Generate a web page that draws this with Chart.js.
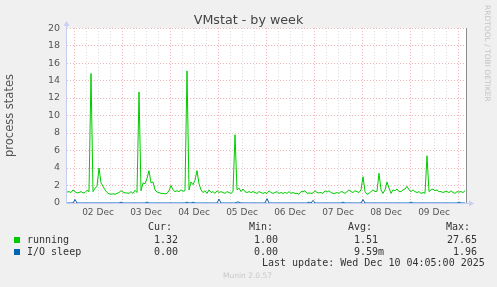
<!DOCTYPE html>
<html>
<head>
<meta charset="utf-8">
<script src="https://cdn.jsdelivr.net/npm/chart.js@4.4.1/dist/chart.umd.min.js"></script>
<style>
html,body{margin:0;padding:0;background:#f0f0f0;}
#wrap{position:relative;width:497px;height:287px;overflow:hidden;background:#f0f0f0;}
#c{position:absolute;left:0;top:0;}
.m{position:absolute;white-space:pre;font-family:"DejaVu Sans Mono",monospace;font-size:10px;line-height:12px;color:#333;}
.sq{position:absolute;width:6px;height:6px;}
#rrd{position:absolute;left:483px;top:5px;writing-mode:vertical-rl;font-family:"DejaVu Sans",sans-serif;font-size:7.5px;line-height:8px;color:#c4c4c4;white-space:pre;}
#munin{position:absolute;left:223px;top:271px;font-family:"DejaVu Sans",sans-serif;font-size:7.5px;line-height:9px;color:#c8c8c8;white-space:pre;}
</style>
</head>
<body>
<div id="wrap">
<canvas id="c" width="497" height="287"></canvas>
<div id="rrd">RRDTOOL / TOBI OETIKER</div>
<div id="munin">Munin 2.0.57</div>
</div>
<script>
// ---- data (hours relative to 02 Dec 00:00, one sample per hour) ----
const dayLabels = ['02 Dec','03 Dec','04 Dec','05 Dec','06 Dec','07 Dec','08 Dec','09 Dec'];
const startHour = -3.5;
const running = [
 1.25,1.3,1.2,1.5,1.3,1.15,1.2,1.3,1.15,1.2, 1.45,1.3,14.8,1.3,1.7,1.9,4.0,2.3,1.9,1.5,
 1.2,1.05,1.0,1.05,1.0,1.1,1.2,1.4,1.25,1.15, 1.15,1.1,1.3,1.1,1.45,1.2,12.7,1.4,2.3,2.2,
 2.8,3.7,2.3,2.4,1.5,1.25,1.2,1.1,1.1,1.05, 1.1,1.4,2.0,1.5,1.3,1.4,1.3,1.5,1.35,1.4,
 15.1,1.5,2.4,2.1,2.6,3.7,2.2,1.5,1.2,1.4, 1.1,1.5,1.2,1.3,1.1,1.4,1.2,1.3,1.2,1.1,
 1.3,1.2,1.1,1.3,7.8,1.5,1.7,1.3,1.6,1.3, 1.2,1.3,1.2,1.3,1.2,1.1,1.3,1.2,1.1,1.2,
 1.1,1.4,1.2,1.1,1.2,1.3,1.1,1.2,1.1,1.2, 1.1,1.3,1.1,1.2,1.1,1.1,1.0,1.3,1.3,1.4,
 1.1,1.15,1.1,1.15,1.4,1.2,1.15,1.2,1.1,1.4, 1.25,1.4,1.2,1.1,1.1,1.2,1.1,1.3,1.25,1.1,
 1.3,1.5,1.3,1.2,1.4,1.3,1.2,1.5,3.0,1.3, 1.0,1.1,1.3,1.5,1.3,1.35,3.4,1.5,1.1,1.5,
 2.4,1.7,1.1,1.5,1.4,1.6,1.3,1.3,1.5,1.6, 1.9,1.5,1.3,1.5,1.3,1.2,1.3,1.1,1.2,1.1,
 5.4,1.3,1.5,1.6,1.4,1.5,1.3,1.3,1.2,1.3, 1.3,1.2,1.4,1.2,1.1,1.3,1.25,1.3,1.2,1.4
];
const ioSleep = [
 0,0,0,0,0.4,0,0,0,0,0, 0,0,0,0,0,0,0,0,0,0,
 0,0,0,0,0,0,0,0.1,0,0, 0,0,0,0,0,0,0,0,0,0,
 0.1,0,0,0,0,0,0,0,0,0, 0,0,0,0,0,0,0,0,0,0,
 0.1,0,0,0.1,0,0,0,0,0,0, 0,0,0,0,0,0,0.45,0,0,0,
 0,0,0,0,0,0.1,0.1,0,0,0, 0,0,0,0,0,0,0,0,0,0,
 0.5,0,0,0,0,0,0,0,0,0, 0,0,0,0,0,0,0,0,0,0,
 0,0.1,0,0.3,0,0,0,0,0,0, 0,0,0,0,0,0,0,0,0.1,0,
 0,0,0,0,0,0,0,0,0.4,0, 0,0,0,0,0,0,0,0,0,0,
 0,0,0,0,0,0,0,0,0,0, 0,0,0.1,0,0,0,0,0,0,0,
 0,0,0,0,0,0,0,0,0,0, 0,0,0,0,0,0,0.1,0,0,0
];
const seriesNames = ['running','I/O sleep'];
const curVals = ['1.32 ','0.00 '];
const minVals = ['1.00 ','0.00 '];
const avgVals = ['1.51 ','9.59m'];
const maxVals = ['27.65 ','1.96 '];
const headers = ['Cur:','Min:','Avg:','Max:'];
const lastUpdate = 'Last update: Wed Dec 10 04:05:00 2025';

// ---- styles ----
const seriesColors = ['#00cc00','#0066b3'];
const majorGrid = 'rgba(225,110,110,0.5)';
const minorGrid = 'rgba(175,175,175,0.45)';
const axisColor = '#c8cef4';

const toPts = arr => arr.map((v,i)=>({x:startHour+i, y:v}));

const wrap = document.getElementById('wrap');
function addText(txt, left, top, right){
  const s = document.createElement('span');
  s.className='m'; s.textContent = txt;
  if (right !== undefined) s.style.right = (497-right)+'px'; else s.style.left = left+'px';
  s.style.top = top+'px';
  wrap.appendChild(s);
}
const headerLeft = [148,249,348,446];
headers.forEach((h,i)=>addText(h, headerLeft[i], 220.5));
const rowTop = [233.5,245.8];
const colRight = [184,284,384,483];
seriesNames.forEach((n,r)=>{
  const sq=document.createElement('div'); sq.className='sq';
  sq.style.left='14px'; sq.style.top=(rowTop[r]+3.5)+'px'; sq.style.background=seriesColors[r];
  wrap.appendChild(sq);
  addText(n, 27, rowTop[r]);
  [curVals,minVals,avgVals,maxVals].forEach((col,c)=>addText(col[r], undefined, rowTop[r], colRight[c]));
});
addText(lastUpdate, 262, 257);

const xTicks = [];
for (let h=0; h<=192; h+=6) xTicks.push(h);

const decor = {
  id:'decor',
  beforeDraw(chart){
    const {ctx, chartArea:{left,right,top,bottom}} = chart;
    ctx.save(); ctx.fillStyle='#ffffff'; ctx.fillRect(left,top,right-left,bottom-top); ctx.restore();
  },
  beforeDatasetsDraw(chart){
    const {ctx, chartArea:{left,right,top,bottom}} = chart;
    ctx.save();
    ctx.strokeStyle=axisColor; ctx.fillStyle=axisColor; ctx.lineWidth=1;
    ctx.beginPath(); ctx.moveTo(left-0.5,bottom+1); ctx.lineTo(left-0.5,top-3); ctx.stroke();
    ctx.beginPath(); ctx.moveTo(left-3.5,top-2); ctx.lineTo(left+2.5,top-2); ctx.lineTo(left-0.5,top-7); ctx.closePath(); ctx.fill();
    ctx.beginPath(); ctx.moveTo(left-1,bottom+0.5); ctx.lineTo(right+3,bottom+0.5); ctx.stroke();
    ctx.beginPath(); ctx.moveTo(right+3,bottom-2.5); ctx.lineTo(right+3,bottom+3.5); ctx.lineTo(right+8,bottom+0.5); ctx.closePath(); ctx.fill();
    ctx.restore();
  }
};

new Chart(document.getElementById('c'), {
  type:'line',
  data:{datasets:[
    {label:seriesNames[1], data:toPts(ioSleep), borderColor:seriesColors[1], borderWidth:1, pointRadius:0, tension:0, fill:false},
    {label:seriesNames[0], data:toPts(running), borderColor:seriesColors[0], borderWidth:1, pointRadius:0, tension:0, fill:false}
  ]},
  options:{
    responsive:false, animation:false, devicePixelRatio:1,
    layout:{padding:{left:0,right:0,top:0,bottom:65}},
    plugins:{
      legend:{display:false}, tooltip:{enabled:false},
      title:{display:true, text:'VMstat - by week', color:'#444',
        font:{family:'DejaVu Sans', size:12.7, weight:'normal', lineHeight:1.2},
        padding:{top:12.6,bottom:0.2}}
    },
    scales:{
      x:{type:'linear', min:startHour, max:196,
        afterBuildTicks(s){ s.ticks = xTicks.map(v=>({value:v})); },
        afterFit(s){ s.height = 19; },
        grid:{drawTicks:false, lineWidth:1, color:c=> (c.tick && c.tick.value%24===0) ? majorGrid : minorGrid},
        border:{display:false, dash:[1,2]},
        ticks:{autoSkip:false, maxRotation:0, padding:4, color:'#555',
          font:{family:'DejaVu Sans', size:9},
          callback:v=> (v%24===12) ? dayLabels[(v-12)/24] : ''}
      },
      y:{min:0, max:20,
        afterFit(s){ s.width = 67; },
        grid:{drawTicks:false, lineWidth:1, color:c=> (c.tick && c.tick.value%2===0) ? majorGrid : minorGrid},
        border:{display:false, dash:[1,2]},
        ticks:{stepSize:1, padding:7, color:'#555', font:{family:'DejaVu Sans', size:9.5},
          callback:v=> (v%2===0) ? String(v) : ''},
        title:{display:true, text:'process states', color:'#555',
          font:{family:'DejaVu Sans', size:11.5, weight:'normal'}, padding:{top:3.2,bottom:0}}
      },
      y2:{position:'right', min:0, max:20,
        afterFit(s){ s.width = 31; },
        grid:{display:false, drawTicks:false},
        border:{display:true, color:'#8c8c8c', width:1},
        ticks:{display:false}
      }
    }
  },
  plugins:[decor]
});
</script>
</body>
</html>
